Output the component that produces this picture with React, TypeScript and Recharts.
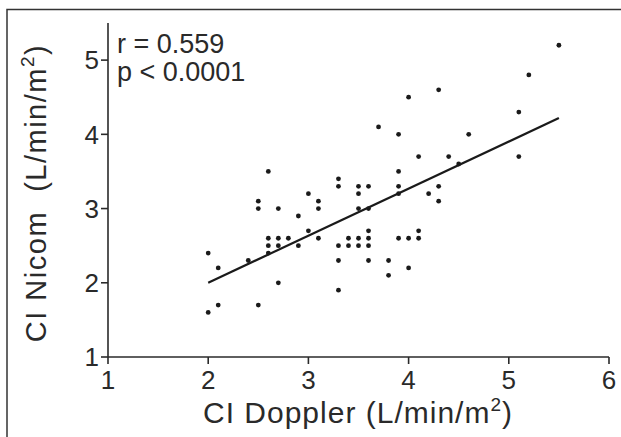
import { ScatterChart, Scatter, XAxis, YAxis } from 'recharts'

// CI measured by Doppler (x) vs Nicom (y), one entry per patient
const dopplerCI = [
  2.0, 2.0, 2.1, 2.1, 2.4, 2.5, 2.5, 2.5, 2.6, 2.6, 2.6, 2.6,
  2.7, 2.7, 2.7, 2.7, 2.8, 2.9, 2.9, 3.0, 3.0, 3.1, 3.1, 3.1,
  3.3, 3.3, 3.3, 3.3, 3.3, 3.4, 3.4, 3.5, 3.5, 3.5, 3.5, 3.5,
  3.6, 3.6, 3.6, 3.6, 3.6, 3.6, 3.7, 3.8, 3.8, 3.9, 3.9, 3.9,
  3.9, 3.9, 4.0, 4.0, 4.0, 4.1, 4.1, 4.1, 4.2, 4.3, 4.3, 4.3,
  4.4, 4.5, 4.6, 5.1, 5.1, 5.2, 5.5,
]
const nicomCI = [
  2.4, 1.6, 2.2, 1.7, 2.3, 3.1, 3.0, 1.7, 3.5, 2.6, 2.5, 2.4,
  3.0, 2.6, 2.5, 2.0, 2.6, 2.9, 2.5, 3.2, 2.7, 3.1, 3.0, 2.6,
  3.4, 3.3, 2.5, 2.3, 1.9, 2.6, 2.5, 3.3, 3.2, 3.0, 2.6, 2.5,
  3.3, 3.0, 2.7, 2.6, 2.5, 2.3, 4.1, 2.3, 2.1, 4.0, 3.5, 3.3,
  3.2, 2.6, 4.5, 2.6, 2.2, 3.7, 2.7, 2.6, 3.2, 4.6, 3.3, 3.1,
  3.7, 3.6, 4.0, 4.3, 3.7, 4.8, 5.2,
]

// regression line ends
const fitX = [2.0, 5.5]
const fitY = [2.0, 4.22]

const xTicks = [1, 2, 3, 4, 5, 6]
const yTicks = [1, 2, 3, 4, 5]
const statLines = ['r = 0.559', 'p < 0.0001']

const points = dopplerCI.map((x, i) => ({ x, y: nicomCI[i] }))
const fit = fitX.map((x, i) => ({ x, y: fitY[i] }))

const font = '"Liberation Sans", Arial, sans-serif'
const ink = '#2a2a2a'

const Dot = (p: any) => <circle cx={p.cx} cy={p.cy} r={2.4} fill="#1a1a1a" />

export default function App() {
  return (
    <div style={{ position: 'absolute', left: 0, top: 0, width: 621, height: 437, background: '#fff', fontFamily: font }}>
      <ScatterChart width={621} height={437} margin={{ top: 23, right: 12, bottom: 50, left: 48 }}>
        <XAxis
          type="number"
          dataKey="x"
          domain={[1, 6]}
          ticks={xTicks}
          interval={0}
          height={30}
          tickSize={7}
          tickMargin={7}
          axisLine={{ stroke: ink, strokeWidth: 1.6 }}
          tickLine={{ stroke: ink, strokeWidth: 1.6 }}
          tick={{ fill: ink, fontSize: 26, fontFamily: font }}
        />
        <YAxis
          type="number"
          dataKey="y"
          domain={[1, 5.5]}
          ticks={yTicks}
          interval={0}
          width={60}
          tickSize={7}
          tickMargin={2}
          axisLine={{ stroke: ink, strokeWidth: 1.6 }}
          tickLine={{ stroke: ink, strokeWidth: 1.6 }}
          tick={{ fill: ink, fontSize: 26, fontFamily: font }}
        />
        <Scatter data={points} shape={Dot} isAnimationActive={false} />
        <Scatter
          data={fit}
          line={{ stroke: '#1a1a1a', strokeWidth: 2.2 }}
          shape={() => <g />}
          isAnimationActive={false}
        />
      </ScatterChart>
      <svg width={621} height={437} style={{ position: 'absolute', left: 0, top: 0, pointerEvents: 'none' }}>
        <path d="M7 437 V9.5 H621" fill="none" stroke="#333" strokeWidth={1.5} />
        {statLines.map((s, i) => (
          <text key={s} x={117} y={53 + i * 28} fontSize={27} fill={ink} fontFamily={font}>
            {s}
          </text>
        ))}
        <text x={358} y={423} textAnchor="middle" fontSize={30} letterSpacing={1} fill={ink} fontFamily={font}>
          CI Doppler (L/min/m<tspan fontSize={19} dy={-12}>2</tspan>
          <tspan dy={12}>)</tspan>
        </text>
        <text
          x={46}
          y={193}
          textAnchor="middle"
          fontSize={29}
          letterSpacing={1.5}
          fill={ink}
          fontFamily={font}
          transform="rotate(-90 46 193)"
          style={{ whiteSpace: 'pre' }}
        >
          {'CI Nicom  (L/min/m'}
          <tspan fontSize={19} dy={-12}>2</tspan>
          <tspan dy={12}>)</tspan>
        </text>
      </svg>
    </div>
  )
}
